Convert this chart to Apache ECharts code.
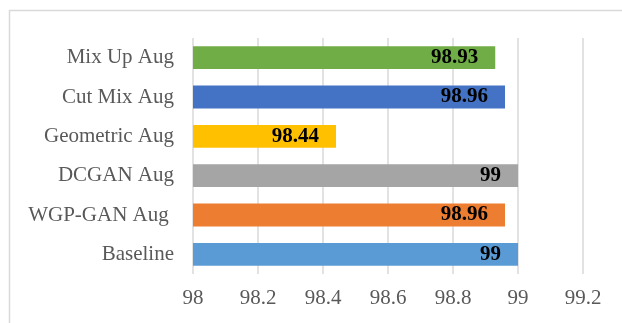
<!DOCTYPE html>
<html>
<head>
<meta charset="utf-8">
<script src="https://cdn.jsdelivr.net/npm/echarts@6/dist/echarts.min.js"></script>
<style>
html, body { margin: 0; padding: 0; background: #fff; }
#chart { width: 622px; height: 323px; }
</style>
</head>
<body>
<div id="chart"></div>
<script>
// categories from bottom to top
var categories = ['Baseline', 'WGP-GAN Aug ', 'DCGAN Aug', 'Geometric Aug', 'Cut Mix Aug', 'Mix Up Aug'];
var values = [99, 98.96, 99, 98.44, 98.96, 98.93];
var colors = ['#5B9BD5', '#ED7D31', '#A5A5A5', '#FFC000', '#4472C4', '#70AD47'];
var xTicks = [98, 98.2, 98.4, 98.6, 98.8, 99, 99.2];

var font = '"Liberation Serif", "Times New Roman", serif';

var chart = echarts.init(document.getElementById('chart'));
var option = {
    animation: false,
    graphic: [{
        type: 'rect',
        shape: { x: 9.5, y: 10.5, width: 640, height: 340 },
        style: { fill: 'none', stroke: '#d9d9d9', lineWidth: 1.5 },
        silent: true
    }],
    grid: {
        left: 193,
        right: 39,
        top: 38,
        bottom: 49
    },
    xAxis: {
        type: 'value',
        min: xTicks[0],
        max: xTicks[xTicks.length - 1],
        interval: 0.2,
        axisLine: { show: false },
        axisTick: { show: false },
        splitLine: { lineStyle: { color: '#d9d9d9', width: 1.5 } },
        axisLabel: {
            color: '#595959',
            fontFamily: font,
            fontSize: 21,
            margin: 14,
            formatter: function (v) { return String(Math.round(v * 10) / 10); }
        }
    },
    yAxis: {
        type: 'category',
        data: categories,
        axisLine: { show: false },
        axisTick: { show: false },
        axisLabel: {
            color: '#595959',
            fontFamily: font,
            fontSize: 21,
            margin: 19
        }
    },
    series: [{
        type: 'bar',
        barCategoryGap: '42%',
        data: values.map(function (v, i) {
            return { value: v, itemStyle: { color: colors[i] } };
        }),
        label: {
            show: true,
            position: 'insideRight',
            distance: 17,
            color: '#000',
            fontFamily: font,
            fontWeight: 'bold',
            fontSize: 21
        }
    }]
};
chart.setOption(option);
</script>
</body>
</html>
